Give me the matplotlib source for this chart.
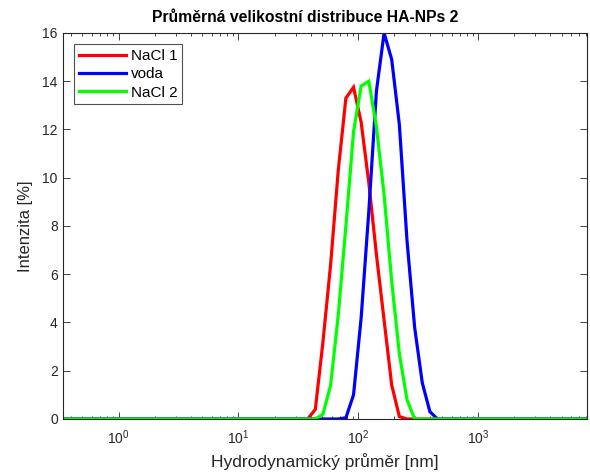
import matplotlib
matplotlib.use("Agg")
import matplotlib.pyplot as plt
from matplotlib.ticker import LogLocator, NullFormatter

plt.rcParams['font.family'] = ['Liberation Sans', 'DejaVu Sans']
plt.rcParams['mathtext.fontset'] = 'custom'
plt.rcParams['mathtext.rm'] = 'Liberation Sans'
plt.rcParams['mathtext.it'] = 'Liberation Sans'

# size bins [nm]
sizes = [0.342, 37.84, 43.82, 50.75, 58.77, 68.06, 78.82, 91.28, 105.7, 122.4,
         141.8, 164.2, 190.1, 220.2, 255.0, 295.3, 342.0, 396.1, 458.7, 531.2, 8050]
# intensities [%]
nacl1 = [0, 0, 0.4, 3.2, 6.4, 10.3, 13.3, 13.75, 12.3, 9.8,
         6.8, 4.1, 1.4, 0.1, 0, 0, 0, 0, 0, 0, 0]
voda = [0, 0, 0, 0, 0, 0, 0.05, 1.0, 4.2, 8.6,
        13.6, 16.0, 14.9, 12.2, 7.4, 3.8, 1.5, 0.3, 0, 0, 0]
nacl2 = [0, 0, 0, 0.2, 1.4, 4.3, 8.0, 11.9, 13.8, 14.0,
         12.1, 9.3, 5.7, 2.7, 0.8, 0, 0, 0, 0, 0, 0]
labels = ['NaCl 1', 'voda', 'NaCl 2']
colors = ['#ff0000', '#0000ff', '#00ff00']
yticks = [0, 2, 4, 6, 8, 10, 12, 14, 16]

gray = '#262626'
fig = plt.figure(figsize=(5.9, 4.72), dpi=100)
ax = fig.add_axes([0.1063, 0.1123, 0.8881, 0.8178])

for y, lab, c in zip([nacl1, voda, nacl2], labels, colors):
    ax.plot(sizes, y, color=c, lw=2.3, label=lab, solid_joinstyle='miter')

ax.set_xscale('log')
ax.set_xlim(0.342, 8050)
ax.set_ylim(0, 16)
ax.set_yticks(yticks)
ax.xaxis.set_major_locator(LogLocator(base=10, numticks=10))
ax.xaxis.set_minor_locator(LogLocator(base=10, subs=range(2, 10), numticks=100))
ax.xaxis.set_minor_formatter(NullFormatter())

ax.tick_params(which='both', direction='in', top=True, right=True, colors=gray,
               labelsize=10, width=0.6)
ax.tick_params(which='major', length=5)
ax.tick_params(which='minor', length=2.5)
ax.tick_params(axis='x', pad=7)
for s in ax.spines.values():
    s.set_color(gray)
    s.set_linewidth(0.8)

ax.set_title('Průměrná velikostní distribuce HA-NPs 2', fontsize=11.3,
             fontweight='bold', color='black', pad=8, x=0.4625)
ax.set_xlabel('Hydrodynamický průměr [nm]', fontsize=12.5, color=gray, labelpad=4)
ax.set_ylabel('Intenzita [%]', fontsize=12, color=gray, labelpad=7)

leg = ax.legend(loc='upper left', bbox_to_anchor=(0.0, 1.0), fancybox=False,
                edgecolor=gray, fontsize=11, handlelength=3.1, handletextpad=0.3,
                borderpad=0.3, labelspacing=0.28, borderaxespad=0.75)
leg.get_frame().set_linewidth(0.8)
for t in leg.get_texts():
    t.set_color('black')

fig.savefig('out.png', dpi=100)
